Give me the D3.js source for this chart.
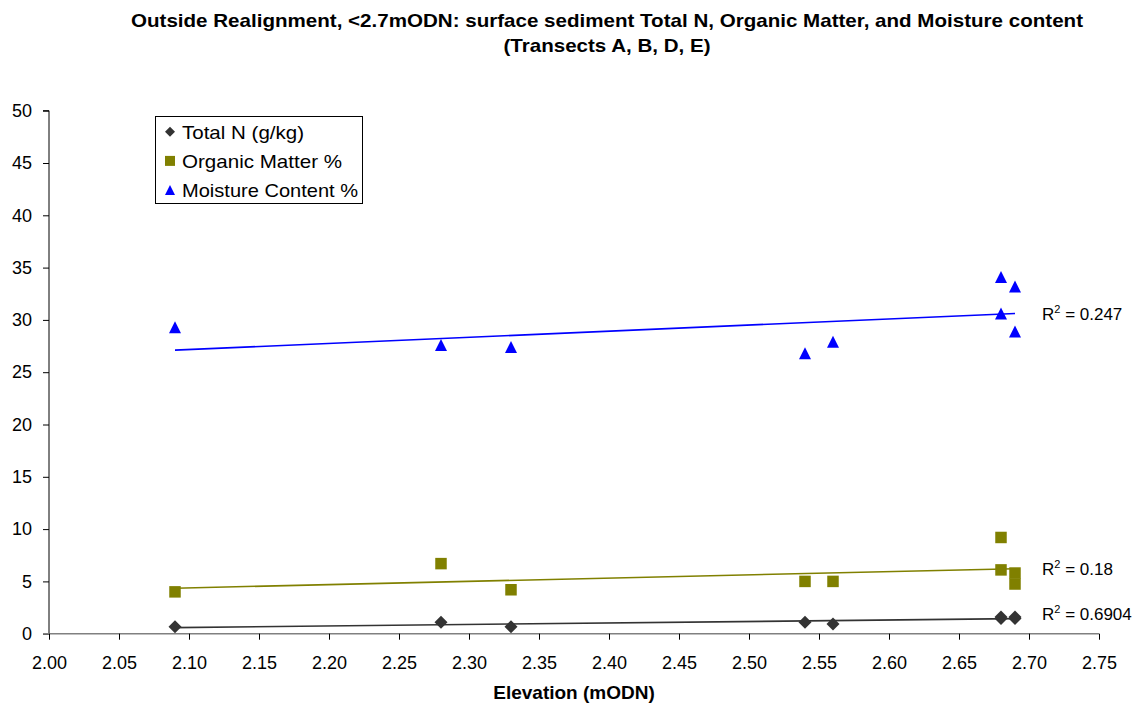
<!DOCTYPE html>
<html><head><meta charset="utf-8">
<script src="https://cdn.jsdelivr.net/npm/d3@7"></script>
<style>body{margin:0;background:#fff}svg{display:block;font-family:"Liberation Sans",Arial,sans-serif}</style>
</head><body><div id="chart"></div>
<script>
const elevation = [2.09, 2.28, 2.33, 2.54, 2.56, 2.68, 2.68, 2.69, 2.69];
const totalN = [0.67, 1.09, 0.67, 1.09, 0.93, 1.6, 1.45, 1.6, 1.45];
const organicMatter = [4.0, 6.7, 4.2, 5.0, 5.0, 9.2, 6.1, 5.8, 4.75];
const moisture = [29.3, 27.6, 27.4, 26.8, 27.9, 34.1, 30.6, 33.2, 28.9];
const seriesNames = ["Total N (g/kg)", "Organic Matter %", "Moisture Content %"];
const r2Labels = ["0.6904", "0.18", "0.247"];
const xTicks = d3.range(0, 16).map(i => +(2 + i * 0.05).toFixed(2));
const yTicks = [0, 5, 10, 15, 20, 25, 30, 35, 40, 45, 50];
const titleLines = ["Outside Realignment, <2.7mODN: surface sediment Total N, Organic Matter, and Moisture content", "(Transects A, B, D, E)"];

const W = 1141, H = 705;
const FF = "Liberation Sans, Arial, sans-serif";
const svg = d3.select("#chart").append("svg").attr("width", W).attr("height", H);
const x = d3.scaleLinear().domain([2.0, 2.75]).range([49, 1099]);
const y = d3.scaleLinear().domain([0, 50]).range([633.7, 110.7]);

// custom symbols: size = (marker width)^2
const diamondSym = {draw(ctx, size) { const r = Math.sqrt(size) / 2; ctx.moveTo(0, -r); ctx.lineTo(r, 0); ctx.lineTo(0, r); ctx.lineTo(-r, 0); ctx.closePath(); }};
const squareSym = {draw(ctx, size) { const r = Math.sqrt(size) / 2; ctx.rect(-r, -r, 2 * r, 2 * r); }};
const triSym = {draw(ctx, size) { const r = Math.sqrt(size) / 2; ctx.moveTo(0, -r); ctx.lineTo(r, r); ctx.lineTo(-r, r); ctx.closePath(); }};

const series = [
  {name: seriesNames[0], vals: totalN, color: "#333333", sym: diamondSym, size: 13 * 13, r2: r2Labels[0], dy: -5},
  {name: seriesNames[1], vals: organicMatter, color: "#808000", sym: squareSym, size: 11.5 * 11.5, r2: r2Labels[1], dy: 0},
  {name: seriesNames[2], vals: moisture, color: "#0000FF", sym: triSym, size: 12 * 12, r2: r2Labels[2], dy: 0}
];

// title
svg.selectAll("text.title").data(titleLines).enter().append("text")
  .attr("class", "title")
  .attr("x", 607).attr("y", (d, i) => 27 + i * 25).attr("text-anchor", "middle")
  .attr("font-weight", "bold").attr("font-size", 19)
  .attr("textLength", (d, i) => i === 0 ? 952 : 207).attr("lengthAdjust", "spacingAndGlyphs")
  .text(d => d);

// axes
const yAxis = svg.append("g").attr("transform", `translate(${x(2.0)},0)`)
  .call(d3.axisLeft(y).tickValues(yTicks).tickSize(6).tickPadding(11).tickFormat(d3.format("d")));
yAxis.select(".domain").attr("stroke", "#000").attr("d", `M-6,${y(50)}H0V${y(0)}`);
yAxis.selectAll(".tick line").attr("stroke", "#000");
yAxis.selectAll("text").attr("font-size", 18).attr("fill", "#000").attr("font-family", FF);

const xAxis = svg.append("g").attr("transform", `translate(0,${y(0)})`)
  .call(d3.axisBottom(x).tickValues(xTicks).tickSize(6).tickPadding(17).tickFormat(d3.format(".2f")));
xAxis.select(".domain").attr("stroke", "#808080").attr("stroke-width", 1.5).attr("d", `M${x(2.0) - 6},0H${x(2.75)}`);
xAxis.selectAll(".tick line").attr("stroke", "#000");
xAxis.selectAll("text").attr("font-size", 18).attr("fill", "#000").attr("font-family", FF);

svg.append("text").attr("x", (x(2.0) + x(2.75)) / 2).attr("y", 699).attr("text-anchor", "middle")
  .attr("font-weight", "bold").attr("font-size", 19).text("Elevation (mODN)");

// trend lines + markers
series.forEach(s => {
  const pts = elevation.map((e, i) => [e, s.vals[i]]);
  const mx = d3.mean(pts, p => p[0]), my = d3.mean(pts, p => p[1]);
  const sxy = d3.sum(pts, p => (p[0] - mx) * (p[1] - my));
  const sxx = d3.sum(pts, p => (p[0] - mx) ** 2);
  const slope = sxy / sxx, icpt = my - slope * mx;
  const [x0, x1] = d3.extent(elevation);
  const lineData = [[x0, icpt + slope * x0], [x1, icpt + slope * x1]];
  svg.append("path").datum(lineData)
    .attr("d", d3.line().x(d => x(d[0])).y(d => y(d[1])))
    .attr("stroke", s.color).attr("stroke-width", 1.6).attr("fill", "none");
  svg.append("g").selectAll("path").data(pts).enter().append("path")
    .attr("transform", d => `translate(${x(d[0])},${y(d[1])})`)
    .attr("d", d3.symbol().type(s.sym).size(s.size)).attr("fill", s.color);
  const lbl = svg.append("text").attr("x", x(x1) + 27).attr("y", y(lineData[1][1]) + s.dy + 6.5)
    .attr("font-size", 17).attr("fill", "#000");
  lbl.append("tspan").text("R");
  lbl.append("tspan").attr("font-size", 11).attr("dy", -7).text("2");
  lbl.append("tspan").attr("dy", 7).text(" = " + s.r2);
});

// legend
const lg = svg.append("g");
lg.append("rect").attr("x", 155.5).attr("y", 116.5).attr("width", 207).attr("height", 87)
  .attr("fill", "#fff").attr("stroke", "#000").attr("stroke-width", 1);
series.forEach((s, i) => {
  const cy = 131.7 + i * 29.2;
  lg.append("path").attr("transform", `translate(170,${cy})`)
    .attr("d", d3.symbol().type(s.sym).size(10 * 10)).attr("fill", s.color);
  lg.append("text").attr("x", 182).attr("y", cy + 7).attr("font-size", 19)
    .attr("textLength", [122, 160, 176][i]).attr("lengthAdjust", "spacingAndGlyphs").text(s.name);
});
</script></body></html>
